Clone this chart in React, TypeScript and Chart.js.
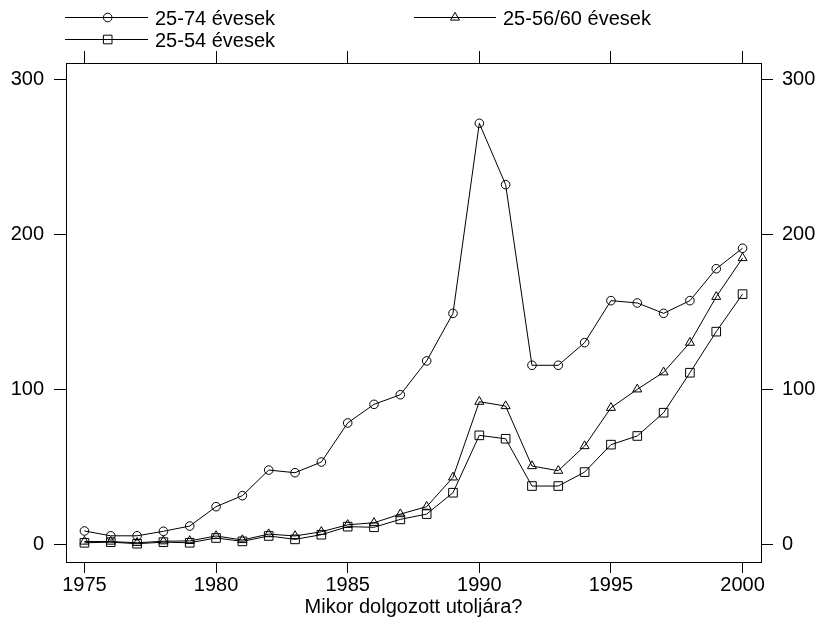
import React, { useEffect, useRef } from "react";
import { Chart, registerables } from "chart.js";

Chart.register(...registerables);

const years = [
  1975, 1976, 1977, 1978, 1979, 1980, 1981, 1982, 1983, 1984, 1985, 1986, 1987,
  1988, 1989, 1990, 1991, 1992, 1993, 1994, 1995, 1996, 1997, 1998, 1999, 2000,
];

const age2574 = [
  8.6, 5.5, 5.5, 8.4, 11.8, 24.3, 31.4, 47.9, 46.2, 53.1, 78.3, 90.3, 96.5,
  118.3, 149.0, 271.6, 232.0, 115.5, 115.5, 130.1, 157.2, 155.7, 149.0, 157.2,
  177.8, 191.0,
];

const age2556 = [
  1.8, 1.8, 1.0, 2.0, 2.2, 5.4, 2.8, 6.6, 5.4, 8.1, 12.6, 13.9, 19.5, 24.3, 43.2,
  92.0, 89.2, 50.5, 47.5, 63.4, 88.1, 100.0, 111.0, 130.1, 159.7, 184.7,
];

const age2554 = [
  1.0, 1.4, 0.4, 1.4, 1.0, 4.1, 1.9, 5.4, 3.2, 6.2, 11.4, 11.0, 16.1, 19.5, 33.3,
  70.3, 68.1, 37.6, 37.6, 46.6, 64.3, 69.9, 84.9, 110.7, 137.2, 161.4,
];

const xTicks = [1975, 1980, 1985, 1990, 1995, 2000];
const yTicks = [0, 100, 200, 300];

const seriesLabels = ["25-74 évesek", "25-56/60 évesek", "25-54 évesek"];
const xTitle = "Mikor dolgozott utoljára?";

const FONT = "'Liberation Sans', Arial, sans-serif";

function drawMarker(ctx: CanvasRenderingContext2D, style: string, x: number, y: number) {
  ctx.beginPath();
  if (style === "circle") {
    ctx.arc(x, y, 4.3, 0, Math.PI * 2);
  } else if (style === "triangle") {
    const r = 5.2;
    for (let i = 0; i < 3; i++) {
      const a = (i * 2 * Math.PI) / 3;
      const px = x + Math.sin(a) * r;
      const py = y - Math.cos(a) * r;
      if (i === 0) ctx.moveTo(px, py);
      else ctx.lineTo(px, py);
    }
    ctx.closePath();
  } else {
    const s = 4.3;
    ctx.rect(x - s, y - s, 2 * s, 2 * s);
  }
  ctx.stroke();
}

const customPlugin = {
  id: "customLegendTitle",
  afterDraw(chart: any) {
    const ctx: CanvasRenderingContext2D = chart.ctx;
    ctx.save();
    ctx.strokeStyle = "#000";
    ctx.fillStyle = "#000";
    ctx.lineWidth = 1;
    const items = [
      { x0: 65, x1: 148, y: 17.5, mx: 107.7, tx: 155, style: "circle", label: seriesLabels[0] },
      { x0: 414, x1: 496, y: 17.5, mx: 455, tx: 503, style: "triangle", label: seriesLabels[1] },
      { x0: 65, x1: 148, y: 39.5, mx: 107.7, tx: 155, style: "rect", label: seriesLabels[2] },
    ];
    ctx.font = `20px ${FONT}`;
    ctx.textBaseline = "alphabetic";
    ctx.textAlign = "left";
    for (const it of items) {
      ctx.beginPath();
      ctx.moveTo(it.x0, it.y);
      ctx.lineTo(it.x1, it.y);
      ctx.stroke();
      drawMarker(ctx, it.style, it.mx, it.y);
      ctx.fillText(it.label, it.tx, it.y + 7);
    }
    const ca = chart.chartArea;
    ctx.textAlign = "center";
    ctx.fillText(xTitle, (ca.left + ca.right) / 2, 613);
    ctx.restore();
  },
};

const setTicks = (vals: number[]) => (scale: any) => {
  scale.ticks = vals.map((v) => ({ value: v }));
};

export default function App() {
  const ref = useRef<HTMLCanvasElement | null>(null);
  useEffect(() => {
    if (!ref.current) return;
    const mk = (vals: number[]) => years.map((y, i) => ({ x: y, y: vals[i] }));
    const common = {
      borderColor: "#000",
      borderWidth: 1,
      pointBorderColor: "#000",
      pointBackgroundColor: "transparent",
      pointBorderWidth: 1,
      fill: false,
      tension: 0,
    };
    const tickFont = { family: FONT, size: 20 };
    const chart = new Chart(ref.current, {
      type: "line",
      data: {
        datasets: [
          { ...common, label: seriesLabels[0], data: mk(age2574), pointStyle: "circle", pointRadius: 4.3 },
          { ...common, label: seriesLabels[1], data: mk(age2556), pointStyle: "triangle", pointRadius: 5.2 },
          { ...common, label: seriesLabels[2], data: mk(age2554), pointStyle: "rect", pointRadius: 6.1 },
        ],
      },
      options: {
        animation: false,
        responsive: false,
        devicePixelRatio: 1,
        layout: { padding: 0 },
        plugins: { legend: { display: false }, tooltip: { enabled: false }, title: { display: false } },
        scales: {
          x: {
            type: "linear",
            position: "bottom",
            min: 1974.3,
            max: 2000.7,
            afterBuildTicks: setTicks(xTicks),
            afterFit: (s: any) => { s.height = 56; },
            grid: { drawOnChartArea: false, tickLength: 11, color: "#000", tickColor: "#000" },
            border: { display: true, color: "#000", width: 1 },
            ticks: { font: tickFont, color: "#000", padding: 0, maxRotation: 0, autoSkip: false, callback: (v: any) => String(v) },
          },
          xTop: {
            type: "linear",
            position: "top",
            min: 1974.3,
            max: 2000.7,
            afterBuildTicks: setTicks(xTicks),
            afterFit: (s: any) => { s.height = 63; },
            grid: { drawOnChartArea: false, tickLength: 12, color: "#000", tickColor: "#000" },
            border: { display: true, color: "#000", width: 1 },
            ticks: { display: false },
          },
          y: {
            type: "linear",
            position: "left",
            min: -11.4,
            max: 310.5,
            afterBuildTicks: setTicks(yTicks),
            afterFit: (s: any) => { s.width = 66; },
            grid: { drawOnChartArea: false, tickLength: 12, color: "#000", tickColor: "#000" },
            border: { display: true, color: "#000", width: 1 },
            ticks: { font: tickFont, color: "#000", padding: 10, callback: (v: any) => String(v) },
          },
          yRight: {
            type: "linear",
            position: "right",
            min: -11.4,
            max: 310.5,
            afterBuildTicks: setTicks(yTicks),
            afterFit: (s: any) => { s.width = 58; },
            grid: { drawOnChartArea: false, tickLength: 12, color: "#000", tickColor: "#000" },
            border: { display: true, color: "#000", width: 1 },
            ticks: { font: tickFont, color: "#000", padding: 9, callback: (v: any) => String(v) },
          },
        },
      },
      plugins: [customPlugin],
    } as any);
    return () => chart.destroy();
  }, []);
  return (
    <div style={{ position: "absolute", left: 0, top: 0, width: 819, height: 618, background: "#fff" }}>
      <canvas ref={ref} width={819} height={618} style={{ display: "block" }} />
    </div>
  );
}
